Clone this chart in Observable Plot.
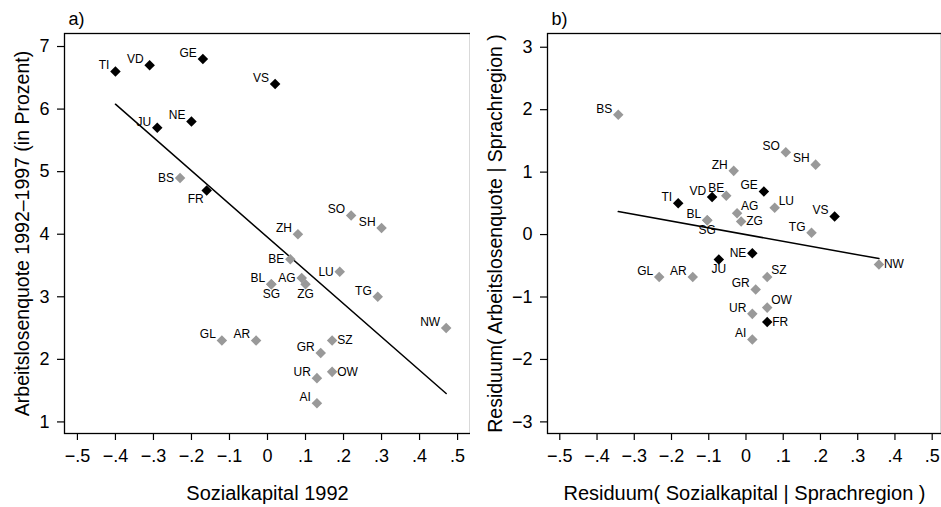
<!DOCTYPE html>
<html><head><meta charset="utf-8">
<script src="https://cdn.jsdelivr.net/npm/d3@7"></script>
<script src="https://cdn.jsdelivr.net/npm/@observablehq/plot@0.6"></script>
<style>
body{margin:0;background:#fff;}
#chart{display:flex;width:941px;height:507px;overflow:hidden;}
#chart svg{display:block;flex:none;}
</style></head><body><div id="chart"></div>
<script>
// Kantone und Sprachregion ("lat" = französisch/italienisch, "de" = deutsch)
const cantons = ["TI","VD","GE","VS","JU","NE","FR","BS","SO","SH","ZH","BE","LU","BL","SG","AG","ZG","TG","NW","GL","AR","SZ","GR","UR","OW","AI"];
const sprachregion = ["lat","lat","lat","lat","lat","lat","lat","de","de","de","de","de","de","de","de","de","de","de","de","de","de","de","de","de","de","de"];
// Panel a)
const sozialkapital1992 = [-0.40,-0.31,-0.17,0.02,-0.29,-0.20,-0.16,-0.23,0.22,0.30,0.08,0.06,0.19,0.01,0.01,0.09,0.10,0.29,0.47,-0.12,-0.03,0.17,0.14,0.13,0.17,0.13];
const arbeitslosenquote = [6.6,6.7,6.8,6.4,5.7,5.8,4.7,4.9,4.3,4.1,4.0,3.6,3.4,3.2,3.2,3.3,3.2,3.0,2.5,2.3,2.3,2.3,2.1,1.7,1.8,1.3];
// Panel b)
const residSozialkapital = [-0.182,-0.091,0.048,0.238,-0.073,0.017,0.057,-0.343,0.107,0.187,-0.033,-0.053,0.077,-0.104,-0.104,-0.024,-0.013,0.176,0.357,-0.233,-0.143,0.057,0.026,0.017,0.057,0.017];
const residArbeitslosenquote = [0.50,0.60,0.69,0.29,-0.40,-0.30,-1.40,1.92,1.32,1.12,1.02,0.62,0.43,0.23,0.23,0.34,0.21,0.03,-0.48,-0.68,-0.68,-0.68,-0.88,-1.27,-1.17,-1.68];
// Ticks
const xTicks = [-0.5,-0.4,-0.3,-0.2,-0.1,0,0.1,0.2,0.3,0.4,0.5];
const xTickLabels = ["\u2212.5","\u2212.4","\u2212.3","\u2212.2","\u2212.1","0",".1",".2",".3",".4",".5"];
const yTicksA = [1,2,3,4,5,6,7];
const yTickLabelsA = ["1","2","3","4","5","6","7"];
const yTicksB = [-3,-2,-1,0,1,2,3];
const yTickLabelsB = ["\u22123","\u22122","\u22121","0","1","2","3"];
// Titles
const titlesA = {tag: "a)", x: "Sozialkapital 1992", y: "Arbeitslosenquote 1992\u20131997 (in Prozent)"};
const titlesB = {tag: "b)", x: "Residuum( Sozialkapital | Sprachregion )", y: "Residuum( Arbeitslosenquote | Sprachregion )"};

// label positions (clock positions, style only)
const labelPosA = {FR: 7, SG: 6, ZG: 6, SZ: 3, OW: 3, BS: 9, BE: 9, AG: 9, LU: 9};
const labelPosB = {LU: 1, AG: 1, ZG: 3, SG: 6, NE: 9, JU: 6, NW: 3, SZ: 1, OW: 1, FR: 3, BE: 12};
const posStyle = {
  11: {textAnchor: "end", dx: -6, dy: -6},
  12: {textAnchor: "end", dx: -2, dy: -8},
  9: {textAnchor: "end", dx: -6, dy: 0},
  7: {textAnchor: "end", dx: -3, dy: 9},
  6: {textAnchor: "middle", dx: 0, dy: 10},
  3: {textAnchor: "start", dx: 5, dy: 0},
  1: {textAnchor: "start", dx: 4, dy: -7}
};
const FONT = "'Liberation Sans', Arial, Helvetica, sans-serif";

function panel({xs, ys, width, marginLeft, xDomain, yDomain, yTicks, yTickLabels, titles, labelPos, yTitleDx}) {
  const data = cantons.map((c, i) => ({c, x: xs[i], y: ys[i], r: sprachregion[i], p: labelPos[c] ?? 11}));
  const labelMarks = Object.keys(posStyle).map(p =>
    Plot.text(data.filter(d => d.p === +p), {x: "x", y: "y", text: "c", fontSize: 12, fill: "black", ...posStyle[p]}));
  return Plot.plot({
    width, height: 507,
    marginLeft, marginRight: 0, marginTop: 33, marginBottom: 74,
    style: {fontFamily: FONT, background: "white", color: "black"},
    x: {domain: xDomain},
    y: {domain: yDomain},
    color: {domain: ["lat", "de"], range: ["#000000", "#999999"]},
    marks: [
      Plot.axisX(xTicks, {tickSize: 7, tickPadding: 9, fontSize: 18, strokeWidth: 1.2,
        tickFormat: d => xTickLabels[xTicks.indexOf(d)], label: null}),
      Plot.axisY(yTicks, {tickSize: 7, tickPadding: 8, fontSize: 18, strokeWidth: 1.2,
        tickFormat: d => yTickLabels[yTicks.indexOf(d)], label: null}),
      Plot.linearRegressionY(data, {x: "x", y: "y", ci: 0, stroke: "black", strokeWidth: 1.5}),
      Plot.dot(data, {x: "x", y: "y", symbol: "square", rotate: 45, r: 4.2, fill: "r", stroke: "none"}),
      ...labelMarks,
      Plot.frame({stroke: "black", strokeWidth: 1.3}),
      Plot.text([titles.tag], {text: d => d, frameAnchor: "top-left", textAnchor: "start", lineAnchor: "bottom", dx: 4, dy: -9, fontSize: 18}),
      Plot.text([titles.x], {text: d => d, frameAnchor: "bottom", textAnchor: "middle", lineAnchor: "middle", dy: 60, fontSize: 20}),
      Plot.text([titles.y], {text: d => d, frameAnchor: "left", textAnchor: "middle", lineAnchor: "middle", rotate: -90, dx: yTitleDx, fontSize: 19.5})
    ]
  });
}

const chart = document.getElementById("chart");
chart.append(panel({
  xs: sozialkapital1992, ys: arbeitslosenquote, width: 470, marginLeft: 64,
  xDomain: [-0.534, 0.534], yDomain: [0.815, 7.208],
  yTicks: yTicksA, yTickLabels: yTickLabelsA, titles: titlesA, labelPos: labelPosA, yTitleDx: -42
}));
chart.append(panel({
  xs: residSozialkapital, ys: residArbeitslosenquote, width: 471, marginLeft: 77,
  xDomain: [-0.533, 0.525], yDomain: [-3.186, 3.22],
  yTicks: yTicksB, yTickLabels: yTickLabelsB, titles: titlesB, labelPos: labelPosB, yTitleDx: -52
}));
</script></body></html>
